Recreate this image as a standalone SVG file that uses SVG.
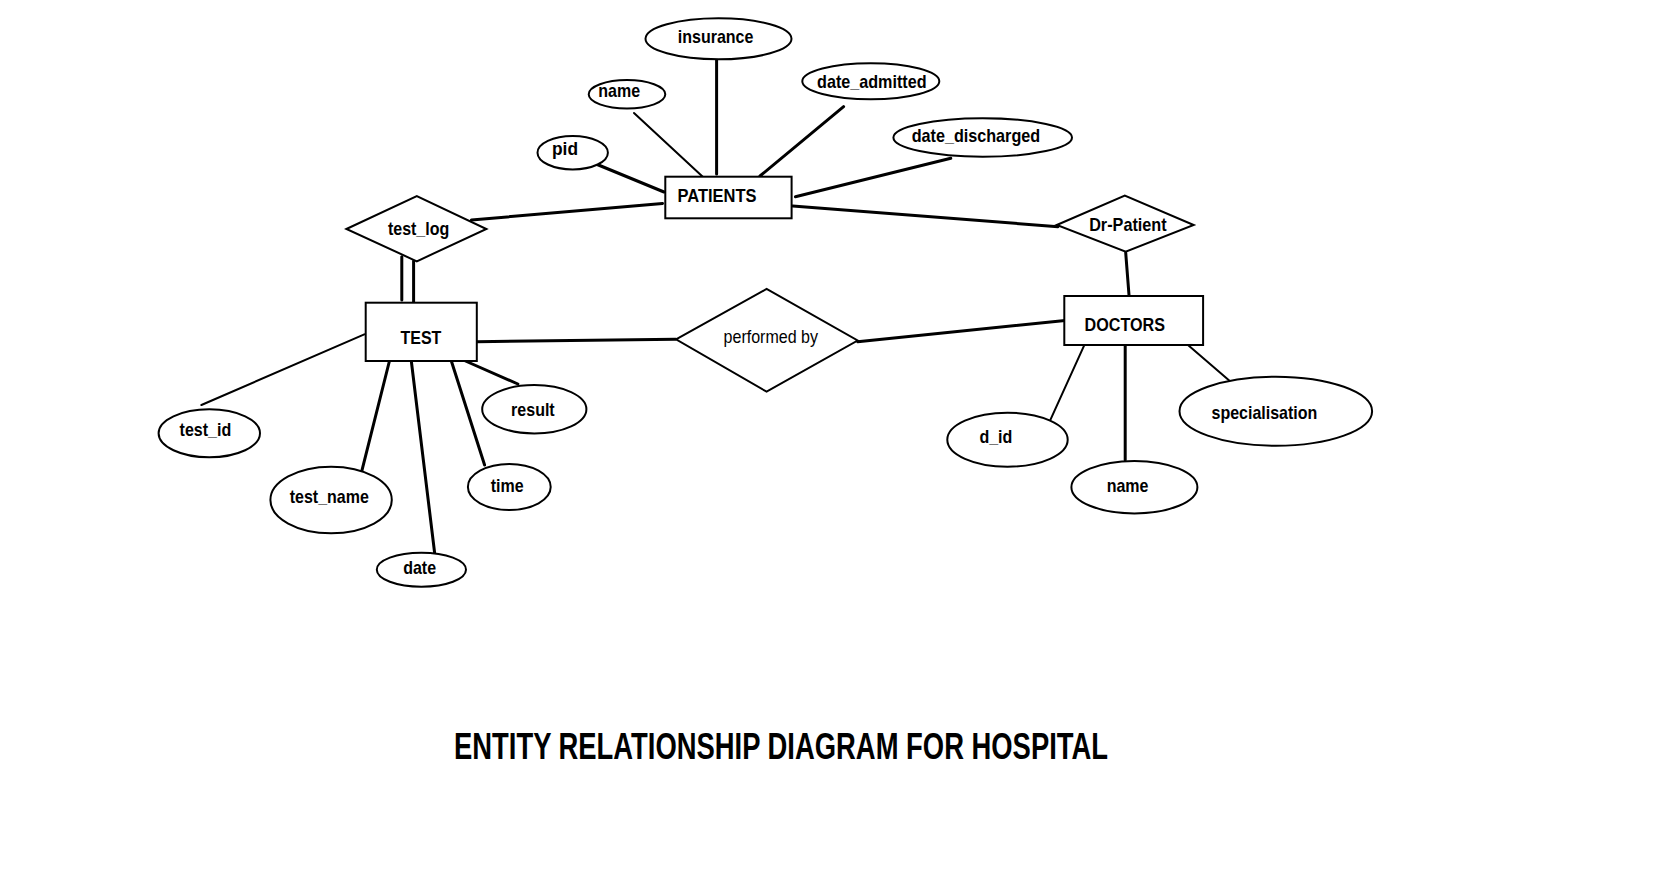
<svg xmlns="http://www.w3.org/2000/svg" width="1660" height="878" viewBox="0 0 1660 878">
<style>
.bg{fill:#fff}
.sh{fill:#fff;stroke:#000;stroke-width:2}
.ln{stroke:#000;stroke-width:3;fill:none;stroke-linecap:round}
.lt{stroke:#000;stroke-width:2;fill:none;stroke-linecap:round}
.t{font-family:"Liberation Sans",Arial,sans-serif;font-weight:bold;font-size:18.5px;text-anchor:middle;fill:#000}
.r{font-weight:normal}
.title{font-family:"Liberation Sans",Arial,sans-serif;font-weight:bold;font-size:36px;text-anchor:middle;fill:#000}
</style>
<rect class="bg" x="0" y="0" width="1660" height="878"/>
<g id="connectors">
<line class="ln" x1="716.6" y1="53" x2="716.6" y2="174"/>
<line class="lt" x1="634" y1="113" x2="703" y2="177"/>
<line class="ln" x1="596" y1="164" x2="664" y2="192"/>
<line class="ln" x1="843.6" y1="106.7" x2="760" y2="176"/>
<line class="ln" x1="950.8" y1="158.3" x2="795.4" y2="196.7"/>
<line class="ln" x1="471.4" y1="220" x2="662.5" y2="203.5"/>
<line class="ln" x1="792.7" y1="206" x2="1058" y2="226.7"/>
<line class="ln" x1="401.8" y1="256.7" x2="401.8" y2="300"/>
<line class="ln" x1="413.6" y1="261" x2="413.6" y2="302.7"/>
<line class="ln" x1="476.8" y1="341.7" x2="675.7" y2="339.3"/>
<line class="ln" x1="857.6" y1="341.7" x2="1070" y2="320"/>
<line class="ln" x1="1125.7" y1="252.7" x2="1129" y2="295"/>
<line class="lt" x1="364.3" y1="334.3" x2="201.4" y2="405"/>
<line class="ln" x1="390.7" y1="356" x2="361.4" y2="472.7"/>
<line class="ln" x1="411.4" y1="361.7" x2="434.6" y2="552.7"/>
<line class="ln" x1="450.7" y1="359" x2="484.6" y2="465"/>
<line class="ln" x1="463.2" y1="360" x2="517.9" y2="384"/>
<line class="lt" x1="1085.1" y1="343.3" x2="1048.8" y2="423.3"/>
<line class="ln" x1="1125.2" y1="341.7" x2="1125.2" y2="460"/>
<line class="lt" x1="1184.2" y1="341.7" x2="1229.5" y2="380.7"/>
</g>
<g id="patients">
<rect class="sh" x="665.3" y="176.7" width="126.3" height="41.6"/>
<text class="t" x="717" y="201.7" textLength="79" lengthAdjust="spacingAndGlyphs">PATIENTS</text>
</g>
<g id="insurance">
<ellipse class="sh" cx="718.5" cy="38.8" rx="73" ry="20.5"/>
<text class="t" x="715.6" y="42.7" textLength="75.6" lengthAdjust="spacingAndGlyphs">insurance</text>
</g>
<g id="p_name">
<ellipse class="sh" cx="627" cy="94.3" rx="38.3" ry="14.3"/>
<text class="t" x="619.2" y="96.7" textLength="41.8" lengthAdjust="spacingAndGlyphs">name</text>
</g>
<g id="pid">
<ellipse class="sh" cx="572.7" cy="152.7" rx="35.2" ry="16.7"/>
<text class="t" x="565" y="155" textLength="26" lengthAdjust="spacingAndGlyphs">pid</text>
</g>
<g id="date_admitted">
<ellipse class="sh" cx="870.8" cy="81.3" rx="68.5" ry="18"/>
<text class="t" x="871.8" y="88.3" textLength="109.5" lengthAdjust="spacingAndGlyphs">date_admitted</text>
</g>
<g id="date_discharged">
<ellipse class="sh" cx="982.7" cy="137.5" rx="89.3" ry="19.2"/>
<text class="t" x="975.9" y="141.7" textLength="128.5" lengthAdjust="spacingAndGlyphs">date_discharged</text>
</g>
<g id="test_log">
<polygon class="sh" points="346.4,229 416.8,196 486.4,229 416.8,261.3"/>
<text class="t" x="418.6" y="235" textLength="61.3" lengthAdjust="spacingAndGlyphs">test_log</text>
</g>
<g id="dr_patient">
<polygon class="sh" points="1056.8,225 1124.8,195.7 1193.7,225 1125.7,251.7"/>
<text class="t" x="1127.9" y="230.7" textLength="77.5" lengthAdjust="spacingAndGlyphs">Dr-Patient</text>
</g>
<g id="test">
<rect class="sh" x="365.7" y="302.7" width="111.1" height="58.3"/>
<text class="t" x="420.9" y="344" textLength="40.9" lengthAdjust="spacingAndGlyphs">TEST</text>
</g>
<g id="performed_by">
<polygon class="sh" points="676,339.3 766.6,289 857.6,340.5 766.6,391.7"/>
<text class="t r" x="770.8" y="342.7" textLength="94.5" lengthAdjust="spacingAndGlyphs">performed by</text>
</g>
<g id="doctors">
<rect class="sh" x="1064.3" y="296" width="138.8" height="49"/>
<text class="t" x="1124.8" y="330.7" textLength="80.5" lengthAdjust="spacingAndGlyphs">DOCTORS</text>
</g>
<g id="test_id">
<ellipse class="sh" cx="209.3" cy="433.3" rx="50.7" ry="24"/>
<text class="t" x="205.4" y="436" textLength="51.6" lengthAdjust="spacingAndGlyphs">test_id</text>
</g>
<g id="test_name">
<ellipse class="sh" cx="331.1" cy="500" rx="60.7" ry="33.3"/>
<text class="t" x="329.3" y="502.7" textLength="79.1" lengthAdjust="spacingAndGlyphs">test_name</text>
</g>
<g id="date">
<ellipse class="sh" cx="421.4" cy="569.7" rx="44.6" ry="17"/>
<text class="t" x="419.6" y="574" textLength="32.9" lengthAdjust="spacingAndGlyphs">date</text>
</g>
<g id="time">
<ellipse class="sh" cx="509.3" cy="487" rx="41.4" ry="23"/>
<text class="t" x="507.1" y="491.7" textLength="32.9" lengthAdjust="spacingAndGlyphs">time</text>
</g>
<g id="result">
<ellipse class="sh" cx="534.3" cy="409.2" rx="52.1" ry="24.2"/>
<text class="t" x="532.9" y="416" textLength="43.6" lengthAdjust="spacingAndGlyphs">result</text>
</g>
<g id="d_id">
<ellipse class="sh" cx="1007.5" cy="439.7" rx="60.2" ry="27"/>
<text class="t" x="995.9" y="443.3" textLength="32.9" lengthAdjust="spacingAndGlyphs">d_id</text>
</g>
<g id="d_name">
<ellipse class="sh" cx="1134.4" cy="487.2" rx="63" ry="26.2"/>
<text class="t" x="1127.6" y="491.7" textLength="41.8" lengthAdjust="spacingAndGlyphs">name</text>
</g>
<g id="specialisation">
<ellipse class="sh" cx="1275.8" cy="411.2" rx="96.3" ry="34.5"/>
<text class="t" x="1264.4" y="419.3" textLength="105.8" lengthAdjust="spacingAndGlyphs">specialisation</text>
</g>
<text class="title" x="781" y="759" textLength="654" lengthAdjust="spacingAndGlyphs">ENTITY RELATIONSHIP DIAGRAM FOR HOSPITAL</text>
</svg>
